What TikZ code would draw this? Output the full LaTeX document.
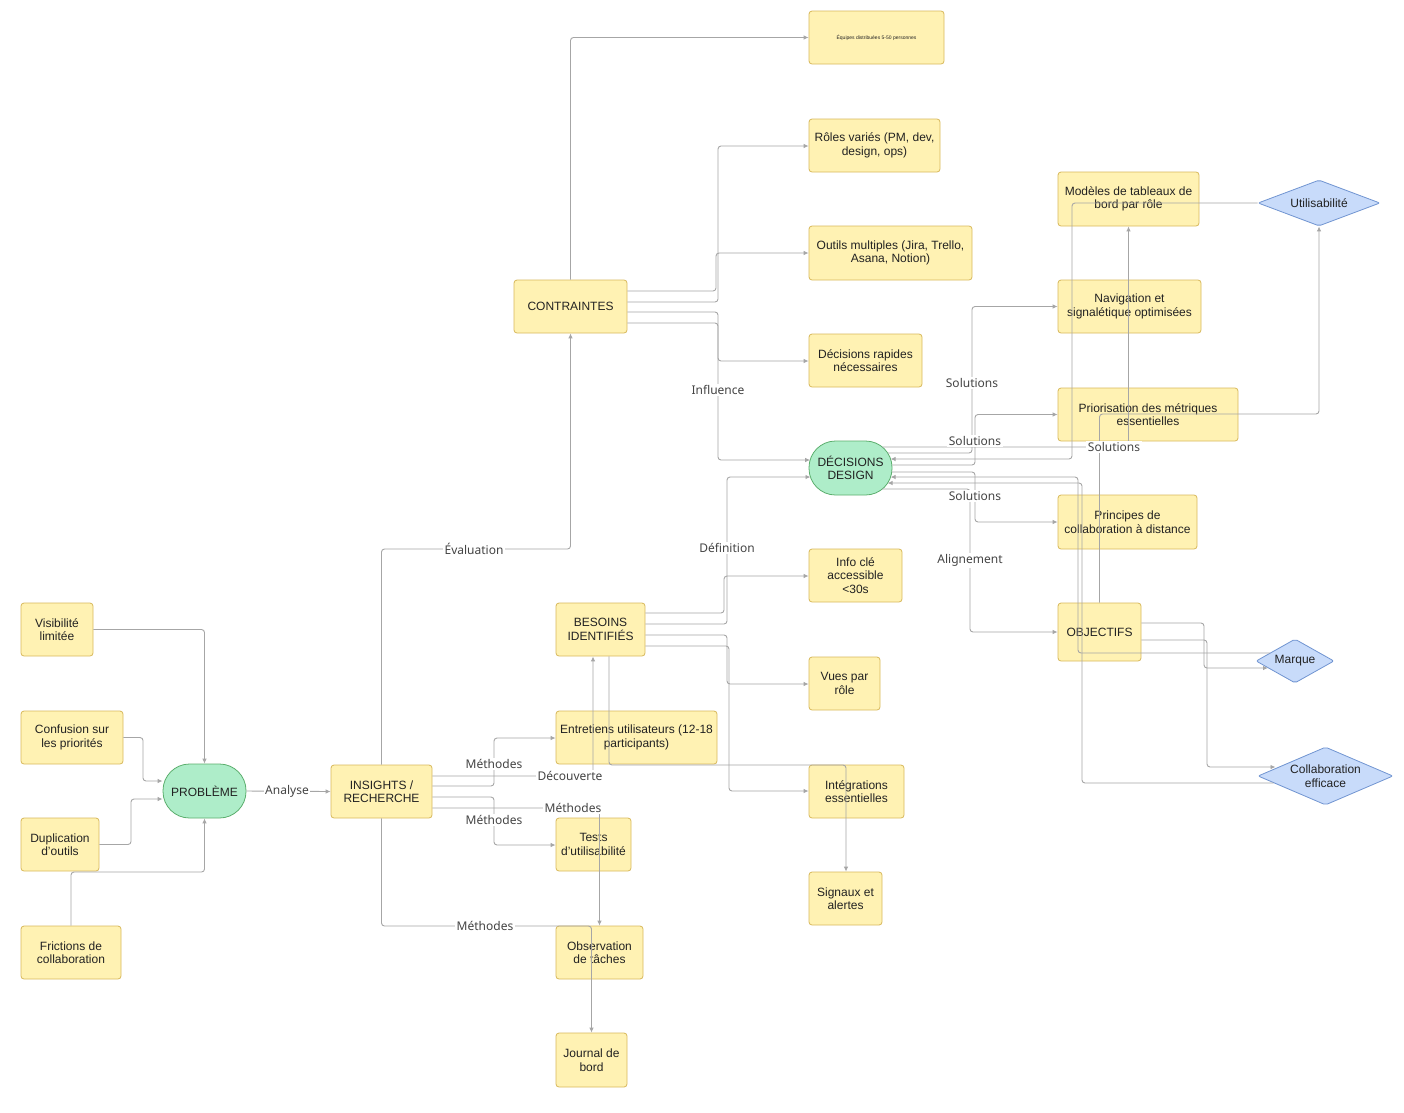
\documentclass[tikz,border=0pt]{standalone}
\usepackage{fontspec}
\setmainfont{Liberation Sans}
\newfontfamily\labelfont{Noto Sans}
\usetikzlibrary{arrows.meta,shapes.geometric,calc}
\definecolor{yfill}{HTML}{FFF2B3}
\definecolor{ydraw}{HTML}{D8B95C}
\definecolor{gfill}{HTML}{AEEDC9}
\definecolor{gdraw}{HTML}{5CAF6E}
\definecolor{bfill}{HTML}{C8DBFA}
\definecolor{bdraw}{HTML}{7094D1}
\definecolor{edgec}{HTML}{A6A6A6}
\definecolor{txt}{HTML}{222222}
\definecolor{ltxt}{HTML}{444444}
\tikzset{
  box/.style={draw=ydraw, fill=yfill, rounded corners=3pt, align=center, inner sep=2pt,
    font=\fontsize{12}{13.5}\selectfont, text=txt, line width=0.8pt},
  term/.style={box, draw=gdraw, fill=gfill, rounded corners=26.5pt},
  dia/.style={diamond, draw=bdraw, fill=bfill, align=center, inner sep=0pt, rounded corners=2pt,
    font=\fontsize{12}{13.5}\selectfont, text=txt, line width=0.8pt},
  ed/.style={draw=edgec, line width=0.9pt, rounded corners=3pt, -{Latex[length=5pt,width=4.5pt]}},
  lbl/.style={fill=white, inner sep=1.5pt, font=\labelfont\fontsize{12}{14}\selectfont, text=ltxt},
}
\begin{document}
\begin{tikzpicture}[x=1pt,y=-1pt]
\useasboundingbox[fill=white] (0,0) rectangle (1404,1112);
% nodes
\node[box, minimum width=135, minimum height=53, font=\fontsize{5}{6}\selectfont] (equipes) at (876.5,37.5) {Équipes distribuées 5-50 personnes};
\node[box, minimum width=131, minimum height=53] (roles) at (874.5,145.5) {Rôles variés (PM, dev,\\ design, ops)};
\node[box, minimum width=163, minimum height=54] (outils) at (890.5,253) {Outils multiples (Jira, Trello,\\ Asana, Notion)};
\node[box, minimum width=113, minimum height=53] (decrap) at (865.5,360.5) {Décisions rapides\\ nécessaires};
\node[term, minimum width=83, minimum height=54] (dd) at (850.5,468) {DÉCISIONS\\ DESIGN};
\node[box, minimum width=93, minimum height=53] (info) at (855.5,575.5) {Info clé\\ accessible\\ <30s};
\node[box, minimum width=71, minimum height=53] (vues) at (844.5,683.5) {Vues par\\ rôle};
\node[box, minimum width=95, minimum height=53] (integ) at (856.5,791.5) {Intégrations\\ essentielles};
\node[box, minimum width=73, minimum height=53] (signaux) at (845.5,898.5) {Signaux et\\ alertes};
\node[box, minimum width=113, minimum height=53] (contr) at (570.5,306.5) {CONTRAINTES};
\node[box, minimum width=89, minimum height=53] (besoins) at (600.5,629.5) {BESOINS\\ IDENTIFIÉS};
\node[box, minimum width=161, minimum height=53] (entret) at (636.5,737.5) {Entretiens utilisateurs (12-18\\ participants)};
\node[box, minimum width=75, minimum height=53] (tests) at (593.5,844.5) {Tests\\ d'utilisabilité};
\node[box, minimum width=87, minimum height=53] (obs) at (599.5,952.5) {Observation\\ de tâches};
\node[box, minimum width=71, minimum height=54] (journal) at (591.5,1060) {Journal de\\ bord};
\node[box, minimum width=101, minimum height=53] (insights) at (381.5,791.5) {INSIGHTS /\\ RECHERCHE};
\node[term, minimum width=83, minimum height=54] (prob) at (204.5,791) {PROBLÈME};
\node[box, minimum width=72, minimum height=53] (vis) at (57,629.5) {Visibilité\\ limitée};
\node[box, minimum width=102, minimum height=53] (conf) at (72,737.5) {Confusion sur\\ les priorités};
\node[box, minimum width=78, minimum height=53] (dup) at (60,844.5) {Duplication\\ d'outils};
\node[box, minimum width=100, minimum height=53] (fric) at (71,952.5) {Frictions de\\ collaboration};
\node[box, minimum width=141, minimum height=54] (modeles) at (1128.5,199) {Modèles de tableaux de\\ bord par rôle};
\node[box, minimum width=143, minimum height=53] (nav) at (1129.5,306.5) {Navigation et\\ signalétique optimisées};
\node[box, minimum width=180, minimum height=53] (prio) at (1148,414.5) {Priorisation des métriques\\ essentielles};
\node[box, minimum width=139, minimum height=54] (princ) at (1127.5,522) {Principes de\\ collaboration à distance};
\node[box, minimum width=83, minimum height=58] (obj) at (1099.5,632) {OBJECTIFS};
\node[dia, aspect=2.65, minimum width=122, minimum height=46] (util) at (1319,203) {Utilisabilité};
\node[dia, aspect=1.77, minimum width=78, minimum height=44] (marque) at (1295,661) {Marque};
\node[dia, aspect=2.33, minimum width=135, minimum height=58] (collab) at (1325.5,776) {Collaboration\\ efficace};
% edges: problem side
\draw[ed] (vis.east) -| (prob.north);
\draw[ed] (conf.east) -| (143,781) -- (prob.west |- 0,781);
\draw[ed] (dup.east) -| (131,799) -- (prob.west |- 0,799);
\draw[ed] (fric.north) |- (prob.south |- 0,872) -- (prob.south);
\draw[ed] (prob.east) -- (insights.west);
% insights
\draw[ed] (insights.north) |- (contr.south |- 0,549) -- (contr.south);
\draw[ed] (insights.east |- 0,776) -| (besoins.south -| 593,0);
\draw[ed] (insights.east |- 0,786) -| (494,738) -- (entret.west |- 0,738);
\draw[ed] (insights.east |- 0,797) -| (494,845) -- (tests.west |- 0,845);
\draw[ed] (insights.east |- 0,808) -| (obs.north);
\draw[ed] (insights.south) |- (journal.north |- 0,926) -- (journal.north);
% besoins
\draw[ed] (besoins.east |- 0,613) -| (724,576) -- (info.west |- 0,576);
\draw[ed] (besoins.east |- 0,624) -| (727,477) -- ($(dd.center)+(-40,9)$);
\draw[ed] (besoins.east |- 0,635) -| (727,684) -- (vues.west |- 0,684);
\draw[ed] (besoins.east |- 0,646) -| (729,791) -- (integ.west |- 0,791);
\draw[ed] (besoins.south -| 609,0) |- (846,765) -- (signaux.north -| 846,0);
% contraintes
\draw[ed] (contr.north) |- (equipes.west);
\draw[ed] (contr.east |- 0,291) -| (716,253) -- (outils.west);
\draw[ed] (contr.east |- 0,302) -| (718,146) -- (roles.west |- 0,146);
\draw[ed] (contr.east |- 0,312) -| (718,361) -- (decrap.west |- 0,361);
\draw[ed] (contr.east |- 0,323) -| (718,460) -- ($(dd.center)+(-40.3,-8)$);
% decisions design
\draw[ed] ($(dd.center)+(31.5,-21)$) -| (modeles.south);
\draw[ed] ($(dd.center)+(37,-15)$) -| (972,306.5) -- (nav.west);
\draw[ed] ($(dd.center)+(41.3,-3)$) -| (975,414.5) -- (prio.west);
\draw[ed] ($(dd.center)+(41.2,4)$) -| (975,522) -- (princ.west);
\draw[ed] ($(dd.center)+(31.5,21)$) -| (970,632) -- (obj.west);
\draw[ed] (util.west) -| (1072,459) -- ($(dd.center)+(40,-9)$);
\draw[ed] ($(marque.center)+(-25,-8)$) -| (1078,477) -- ($(dd.center)+(40,9)$);
\draw[ed] ($(collab.center)+(-52,7)$) -| (1082,483) -- ($(dd.center)+(37,15)$);
% objectifs
\draw[ed] (obj.north) |- (util.south |- 0,414) -- (util.south);
\draw[ed] (obj.east |- 0,623) -| (1204,668) -- ($(marque.center)+(-27,7)$);
\draw[ed] (obj.east |- 0,640) -| (1207,767) -- ($(collab.center)+(-50,-9)$);
% labels
\node[lbl] (lAnalyse) at (287,791) {Analyse};
\node[lbl] (lEval) at (474,549) {Évaluation};
\node[lbl] (lInfl) at (718,390) {Influence};
\node[lbl] (lDef) at (727,548) {Définition};
\node[lbl] (lDecouv) at (570,776) {Découverte};
\node[lbl] (lMeth1) at (494,764) {Méthodes};
\node[lbl] (lMeth2) at (494,820) {Méthodes};
\node[lbl] (lMeth3) at (573,808) {Méthodes};
\node[lbl] (lMeth4) at (485,926) {Méthodes};
\node[lbl] (lSol1) at (972,383) {Solutions};
\node[lbl] (lSol2) at (975,441) {Solutions};
\node[lbl] (lSol3) at (975,496) {Solutions};
\node[lbl] (lSol4) at (1114,447) {Solutions};
\node[lbl] (lAlign) at (970,560) {Alignement};
\end{tikzpicture}
\end{document}
